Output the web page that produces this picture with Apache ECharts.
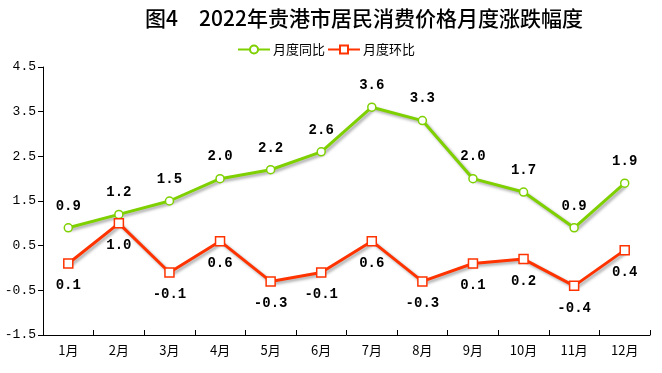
<!DOCTYPE html>
<html><head><meta charset="utf-8">
<script src="https://cdn.jsdelivr.net/npm/echarts@6/dist/echarts.min.js"></script>
<style>html,body{margin:0;padding:0;background:#fff}#c{width:662px;height:373px}</style>
</head><body><div id="c"></div>
<script>
const categories = ['1月','2月','3月','4月','5月','6月','7月','8月','9月','10月','11月','12月'];
const yoy = [0.9,1.2,1.5,2.0,2.2,2.6,3.6,3.3,2.0,1.7,0.9,1.9];
const mom = [0.1,1.0,-0.1,0.6,-0.3,-0.1,0.6,-0.3,0.1,0.2,-0.4,0.4];
const yTicks = [-1.5,-0.5,0.5,1.5,2.5,3.5,4.5];
const titleText = '图4　2022年贵港市居民消费价格月度涨跌幅度';
const seriesNames = ['月度同比','月度环比'];

const chart = echarts.init(document.getElementById('c'));
const numFont = '"Liberation Mono","DejaVu Sans Mono",monospace';
chart.setOption({
  animation:false,
  title:{text:titleText,left:359,textAlign:'center',top:3,
    textStyle:{fontFamily:'"Noto Sans CJK SC",sans-serif',fontSize:21,fontWeight:500,color:'#000'}},
  legend:{top:38,left:232,itemGap:2,itemWidth:32,itemHeight:10,
    textStyle:{fontFamily:'"Noto Sans CJK SC",sans-serif',fontSize:13,color:'#000',padding:[0,0,0,-2]},
    data:[seriesNames[0],seriesNames[1]]},
  grid:{left:43,right:12,top:67,bottom:38},
  xAxis:{type:'category',data:categories,boundaryGap:true,
    axisLine:{onZero:false,lineStyle:{color:'#000',width:1}},
    axisTick:{show:true,alignWithLabel:false,length:5,inside:true,lineStyle:{color:'#000'}},
    axisLabel:{color:'#000',fontFamily:'"Noto Sans CJK SC",sans-serif',fontSize:13,margin:9}},
  yAxis:{type:'value',min:yTicks[0],max:yTicks[yTicks.length-1],interval:1,
    axisLine:{show:true,lineStyle:{color:'#000'}},
    axisTick:{show:true,inside:false,length:5,lineStyle:{color:'#000'}},
    splitLine:{show:false},
    axisLabel:{color:'#000',fontFamily:numFont,fontSize:13,margin:7,formatter:v=>v.toFixed(1)}},
  series:[
    {name:seriesNames[0],type:'line',data:yoy,symbol:'circle',symbolSize:8,
      lineStyle:{color:'#7ED000',width:3,shadowColor:'rgba(0,0,0,0.35)',shadowBlur:3,shadowOffsetX:2,shadowOffsetY:2},
      itemStyle:{color:'#fff',borderColor:'#7ED000',borderWidth:1.5},
      label:{show:true,position:'top',distance:10,color:'#000',fontFamily:numFont,fontWeight:'bold',fontSize:14,formatter:p=>p.value.toFixed(1)}},
    {name:seriesNames[1],type:'line',data:mom,symbol:'rect',symbolSize:9,
      lineStyle:{color:'#FF3300',width:3,shadowColor:'rgba(0,0,0,0.35)',shadowBlur:3,shadowOffsetX:2,shadowOffsetY:2},
      itemStyle:{color:'#fff',borderColor:'#FF3300',borderWidth:1.5},
      label:{show:true,position:'bottom',distance:10,color:'#000',fontFamily:numFont,fontWeight:'bold',fontSize:14,formatter:p=>p.value.toFixed(1)}}
  ]
});
</script></body></html>
